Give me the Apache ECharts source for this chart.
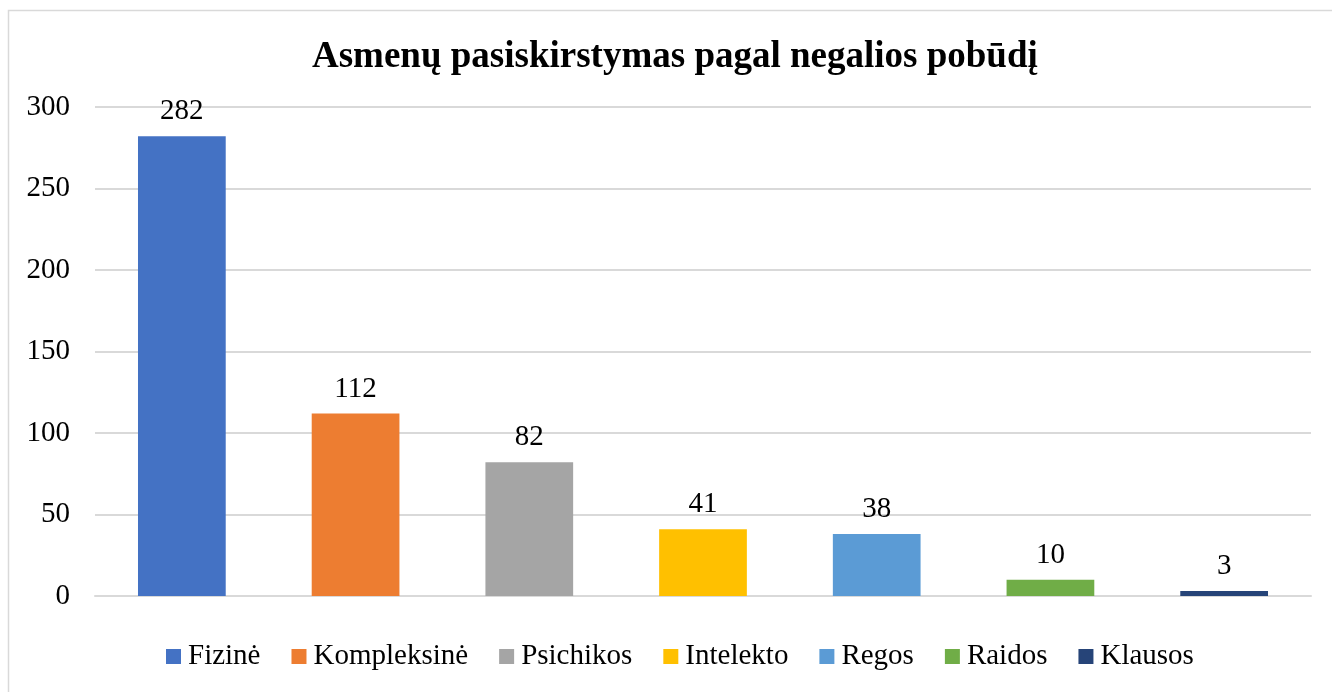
<!DOCTYPE html>
<html><head><meta charset="utf-8">
<script src="https://cdn.jsdelivr.net/npm/echarts@6/dist/echarts.min.js"></script>
<style>html,body{margin:0;padding:0;background:#fff}#c{width:1332px;height:692px}</style>
</head><body><div id="c"></div>
<script>
const titleText = 'Asmenų pasiskirstymas pagal negalios pobūdį';
const categories = ['Fizinė','Kompleksinė','Psichikos','Intelekto','Regos','Raidos','Klausos'];
const values = [282,112,82,41,38,10,3];
const colors = ['#4472C4','#ED7D31','#A5A5A5','#FFC000','#5B9BD5','#70AD47','#264478'];
const yTicks = {min:0,max:300,interval:50};

const FONT = '"Liberation Serif","Times New Roman",serif';
const chart = echarts.init(document.getElementById('c'));
const series = categories.map((name,i)=>({
  name: name,
  type: 'bar',
  stack: 'all',
  barWidth: '50.5%',
  itemStyle: {color: colors[i]},
  label: {show: true, position: 'top', distance: 10, color: '#000', fontFamily: FONT, fontSize: 29},
  data: categories.map((c,j)=> j===i ? values[i] : '-')
}));
chart.setOption({
  animation: false,
  title: {text: titleText, left: 307, top: 34, textStyle: {fontFamily: FONT, fontSize: 37, fontWeight: 'bold', color: '#000'}},
  graphic: [{type:'rect', shape:{x:8.5,y:10.5,width:1400,height:800}, style:{fill:'none', stroke:'#d9d9d9', lineWidth:1.5}, silent:true}],
  legend: {bottom: 16, left: 161, icon: 'rect', itemWidth: 15, itemHeight: 15, itemGap: 31,
    textStyle: {fontFamily: FONT, fontSize: 29, color: '#000', padding:[0,0,0,2]}, data: categories},
  grid: {left: 95, right: 21, top: 107, bottom: 96, containLabel: false},
  xAxis: {type: 'category', data: categories, axisLabel: {show:false}, axisTick: {show:false},
    axisLine: {lineStyle: {color: '#d9d9d9', width: 2}}},
  yAxis: {type: 'value', min: yTicks.min, max: yTicks.max, interval: yTicks.interval,
    axisLabel: {fontFamily: FONT, fontSize: 29, color: '#000', margin: 25},
    axisLine: {show:false}, axisTick: {show:false},
    splitLine: {lineStyle: {color: '#d9d9d9', width: 2}}},
  series: series
});
</script></body></html>
